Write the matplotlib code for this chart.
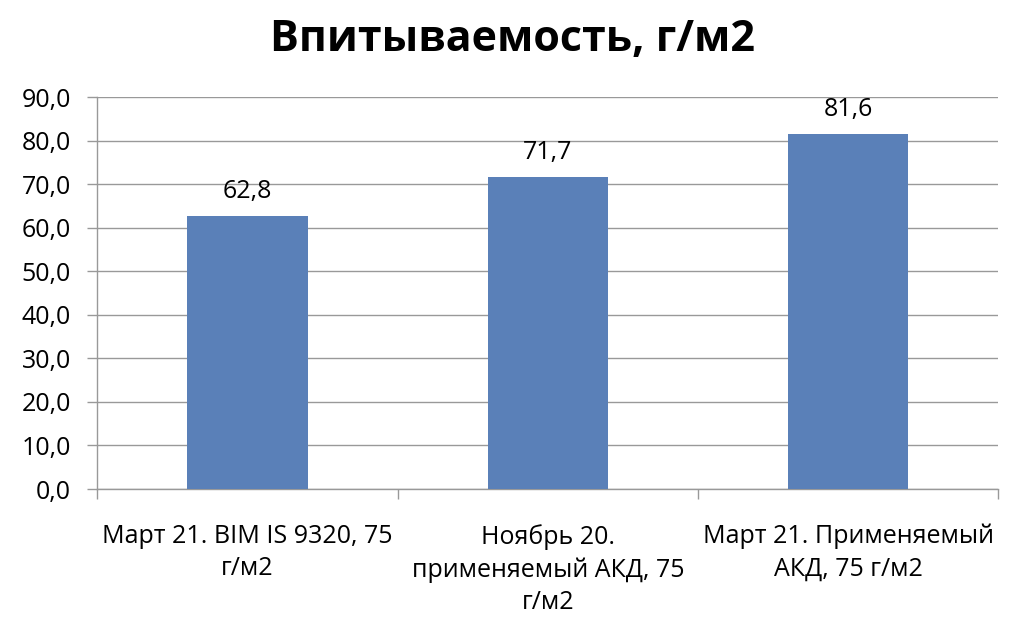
import matplotlib.pyplot as plt
from matplotlib.ticker import FixedLocator, FuncFormatter

plt.rcParams['font.family'] = ['Open Sans', 'DejaVu Sans']

categories = ['Март 21. BIM IS 9320, 75\nг/м2',
              'Ноябрь 20.\nприменяемый АКД, 75\nг/м2',
              'Март 21. Применяемый\nАКД, 75 г/м2']
values = [62.8, 71.7, 81.6]
title = 'Впитываемость, г/м2'

fig = plt.figure(figsize=(10.24, 6.31), dpi=100)
ax = fig.add_axes([0.095, 0.225, 0.88, 0.621])

x = range(len(values))
bars = ax.bar(x, values, width=0.4, color='#5A80B8', zorder=3)
for b, v in zip(bars, values):
    ax.text(b.get_x() + b.get_width() / 2, v + 2.7, f'{v:.1f}'.replace('.', ','),
            ha='center', va='bottom', fontsize=18)

ax.set_xlim(-0.5, len(values) - 0.5)
ax.set_ylim(0, 90)
ax.set_yticks(range(0, 91, 10))
ax.yaxis.set_major_formatter(FuncFormatter(lambda v, p: f'{v:.1f}'.replace('.', ',')))
ax.grid(axis='y', color='#999999', lw=1, zorder=0)

# category labels in the middle, tick marks between categories
ax.set_xticks(list(x))
ax.set_xticklabels(categories, fontsize=18, linespacing=1.4, va='top')
ax.tick_params(axis='x', length=0, pad=25)
ax.xaxis.set_minor_locator(FixedLocator([-0.5, 0.5, 1.5, 2.5]))
ax.tick_params(axis='x', which='minor', length=7, color='#999999', width=1)
ax.tick_params(axis='y', length=7, color='#999999', width=1, labelsize=18, pad=12)

for s in ['top', 'right']:
    ax.spines[s].set_visible(False)
for s in ['left', 'bottom']:
    ax.spines[s].set_color('#999999')
    ax.spines[s].set_linewidth(1)

fig.text(0.5, 0.937, title, ha='center', va='center', fontsize=31, fontweight='bold')

fig.savefig('out.png', dpi=100)
